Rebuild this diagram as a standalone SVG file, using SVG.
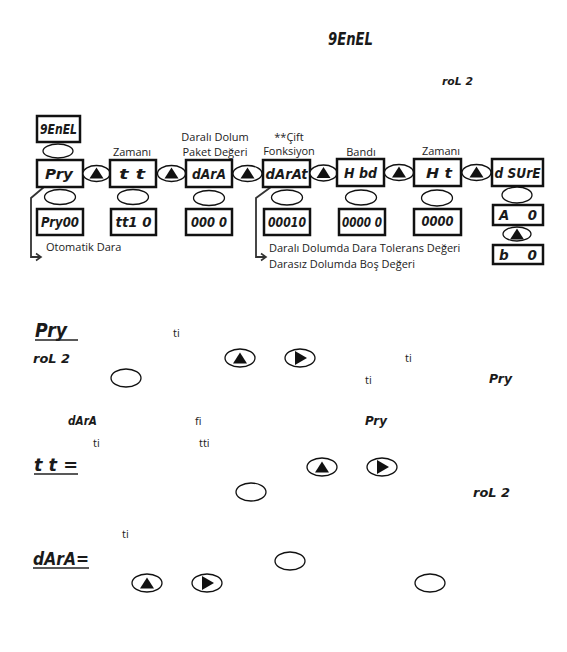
<svg xmlns="http://www.w3.org/2000/svg" width="567" height="652" viewBox="0 0 567 652">
<style>
.box{fill:#fff;stroke:#111;stroke-width:2.5}
.btn{fill:#fff;stroke:#111;stroke-width:1.3}
.tri{fill:#111}
.seg{font-family:"DejaVu Sans",sans-serif;font-style:italic;font-weight:bold;font-size:14px;fill:#1a1a1a;text-anchor:middle}
.segl{font-family:"DejaVu Sans",sans-serif;font-style:italic;font-weight:bold;fill:#1a1a1a}
.lbl{font-family:"Open Sans","Noto Sans",sans-serif;font-size:11px;fill:#222}
.mid{text-anchor:middle}
.con{fill:none;stroke:#333;stroke-width:1.8}
.ul{stroke:#222;stroke-width:1.5}
.pre{white-space:pre}
</style>
<defs>
<marker id="arr" viewBox="0 0 10 10" refX="8" refY="5" markerWidth="10" markerHeight="10" orient="auto" markerUnits="userSpaceOnUse">
<polyline points="3,1.5 8,5 3,8.5" fill="none" stroke="#333" stroke-width="1.6"/>
</marker>
<g id="up"><polygon points="-7,5 7,5 0,-6" class="tri"/></g>
<g id="right"><polygon points="-5,-7 -5,7 7,0" class="tri"/></g>
</defs>
<rect width="567" height="652" fill="#fff"/>

<!-- header -->
<text class="segl" x="328" y="45" font-size="17" textLength="45" lengthAdjust="spacingAndGlyphs">9EnEL</text>
<text class="segl" x="442" y="85" font-size="11" textLength="31" lengthAdjust="spacingAndGlyphs">roL 2</text>

<!-- connectors -->
<g id="connectors">
<path class="con" d="M44,187 L31,198 L31,257 L41,257" marker-end="url(#arr)"/>
<path class="con" d="M271,187 L256,198 L256,257 L266,257" marker-end="url(#arr)"/>
</g>

<!-- nodes -->
<g id="genel"><rect class="box" x="37" y="116" width="43" height="26"/><text class="seg" x="58.5" y="134" font-size="13" textLength="37" lengthAdjust="spacingAndGlyphs">9EnEL</text></g>
<g id="btn-genel"><ellipse class="btn" cx="58" cy="151" rx="15" ry="7"/></g>

<g id="pry"><rect class="box" x="37" y="160" width="46" height="27"/><text class="seg" x="59" y="179" textLength="28" lengthAdjust="spacingAndGlyphs">Pry</text></g>
<g id="btn-up1"><ellipse class="btn" cx="96.5" cy="173.5" rx="13.5" ry="8"/><use href="#up" x="96.5" y="173.5"/></g>
<g id="tt"><rect class="box" x="110" y="160" width="46" height="27"/><text class="seg" x="132" y="179" textLength="26" lengthAdjust="spacingAndGlyphs">t t</text><text class="lbl mid" x="132" y="156">Zamanı</text></g>
<g id="btn-up2"><ellipse class="btn" cx="171.5" cy="173.5" rx="14" ry="8"/><use href="#up" x="171.5" y="173.5"/></g>
<g id="dara"><rect class="box" x="186" y="160" width="46" height="27"/><text class="seg" x="209" y="179" textLength="34" lengthAdjust="spacingAndGlyphs">dArA</text><text class="lbl mid" x="215" y="141">Daralı Dolum</text><text class="lbl mid" x="215" y="156">Paket Değeri</text></g>
<g id="btn-up3"><ellipse class="btn" cx="247.5" cy="173.5" rx="14.5" ry="8"/><use href="#up" x="247.5" y="173.5"/></g>
<g id="darat"><rect class="box" x="263" y="160" width="47" height="27"/><text class="seg" x="286.5" y="179" textLength="42" lengthAdjust="spacingAndGlyphs">dArAt</text><text class="lbl mid" x="289" y="141">**Çift</text><text class="lbl mid" x="289" y="155">Fonksiyon</text></g>
<g id="btn-up4"><ellipse class="btn" cx="323.5" cy="173" rx="13.5" ry="8"/><use href="#up" x="323.5" y="173"/></g>
<g id="hbd"><rect class="box" x="337" y="159" width="47" height="27"/><text class="seg" x="360.5" y="178" textLength="33" lengthAdjust="spacingAndGlyphs">H bd</text><text class="lbl mid" x="361" y="156">Bandı</text></g>
<g id="btn-up5"><ellipse class="btn" cx="399" cy="172.5" rx="14.5" ry="8"/><use href="#up" x="399" y="172.5"/></g>
<g id="ht"><rect class="box" x="414" y="159" width="47" height="27"/><text class="seg" x="439" y="178" textLength="26" lengthAdjust="spacingAndGlyphs">H t</text><text class="lbl mid" x="441" y="155">Zamanı</text></g>
<g id="btn-up6"><ellipse class="btn" cx="476.5" cy="172.5" rx="14.5" ry="8"/><use href="#up" x="476.5" y="172.5"/></g>
<g id="dsure"><rect class="box" x="492" y="159" width="51" height="27"/><text class="seg" x="517.5" y="178" textLength="46" lengthAdjust="spacingAndGlyphs">d SUrE</text></g>

<g id="btn-o1"><ellipse class="btn" cx="60" cy="197" rx="15.5" ry="7.5"/></g>
<g id="btn-o2"><ellipse class="btn" cx="133" cy="197" rx="15.5" ry="7.5"/></g>
<g id="btn-o3"><ellipse class="btn" cx="209" cy="198" rx="15.5" ry="7.5"/></g>
<g id="btn-o4"><ellipse class="btn" cx="287" cy="197.5" rx="15.5" ry="7.5"/></g>
<g id="btn-o5"><ellipse class="btn" cx="361" cy="197.5" rx="15.5" ry="7.5"/></g>
<g id="btn-o6"><ellipse class="btn" cx="437" cy="198" rx="15.5" ry="8"/></g>
<g id="btn-o7"><ellipse class="btn" cx="517" cy="195" rx="15" ry="8"/></g>

<g id="v-pry"><rect class="box" x="37" y="209" width="46" height="26"/><text class="seg" x="60" y="227" textLength="38" lengthAdjust="spacingAndGlyphs">Pry00</text><text class="lbl" x="46" y="251">Otomatik Dara</text></g>
<g id="v-tt"><rect class="box" x="111" y="209" width="45" height="26"/><text class="seg" x="133.5" y="227" textLength="36" lengthAdjust="spacingAndGlyphs">tt1 0</text></g>
<g id="v-dara"><rect class="box" x="186" y="209" width="46" height="26"/><text class="seg" x="209" y="227" textLength="36" lengthAdjust="spacingAndGlyphs">000 0</text></g>
<g id="v-darat"><rect class="box" x="264" y="209" width="46" height="26"/><text class="seg" x="287" y="227" textLength="38" lengthAdjust="spacingAndGlyphs">00010</text><text class="lbl" x="269" y="252">Daralı Dolumda Dara Tolerans Değeri</text><text class="lbl" x="269" y="268">Darasız Dolumda Boş Değeri</text></g>
<g id="v-hbd"><rect class="box" x="339" y="209" width="46" height="26"/><text class="seg" x="362" y="227" textLength="40" lengthAdjust="spacingAndGlyphs">0000 0</text></g>
<g id="v-ht"><rect class="box" x="414" y="209" width="47" height="26"/><text class="seg" x="437.5" y="226" textLength="32" lengthAdjust="spacingAndGlyphs">0000</text></g>
<g id="v-a"><rect class="box" x="493" y="205" width="50" height="20"/><text class="seg pre" x="518" y="220" font-size="12" textLength="38" lengthAdjust="spacingAndGlyphs">A    0</text></g>
<g id="btn-up7"><ellipse class="btn" cx="517" cy="234" rx="14" ry="7"/><use href="#up" x="517" y="234.5"/></g>
<g id="v-b"><rect class="box" x="493" y="245" width="50" height="19"/><text class="seg pre" x="518" y="259.5" font-size="12" textLength="38" lengthAdjust="spacingAndGlyphs">b    0</text></g>

<!-- body text fragments -->
<text class="segl" x="35" y="337" font-size="19" textLength="32" lengthAdjust="spacingAndGlyphs">Pry</text>
<line class="ul" x1="35" y1="340" x2="78" y2="340"/>
<text class="lbl" x="173" y="337">ti</text>
<text class="segl" x="33" y="363" font-size="12" textLength="37" lengthAdjust="spacingAndGlyphs">roL 2</text>
<ellipse class="btn" cx="240" cy="358" rx="15" ry="9"/><use href="#up" x="240" y="358.5"/>
<ellipse class="btn" cx="300" cy="358" rx="15" ry="9"/><use href="#right" x="300" y="358"/>
<text class="lbl" x="405" y="362">ti</text>
<ellipse class="btn" cx="126" cy="378" rx="15" ry="9"/>
<text class="lbl" x="365" y="384">ti</text>
<text class="segl" x="489" y="383" font-size="12" textLength="23" lengthAdjust="spacingAndGlyphs">Pry</text>

<text class="segl" x="68" y="425" font-size="12" textLength="29" lengthAdjust="spacingAndGlyphs">dArA</text>
<text class="lbl" x="195" y="425">fi</text>
<text class="segl" x="365" y="425" font-size="12" textLength="22" lengthAdjust="spacingAndGlyphs">Pry</text>
<text class="lbl" x="93" y="447">ti</text>
<text class="lbl" x="199" y="447">tti</text>

<text class="segl" x="34" y="471" font-size="17" textLength="44" lengthAdjust="spacingAndGlyphs">t t =</text>
<line class="ul" x1="34" y1="474" x2="78" y2="474"/>
<ellipse class="btn" cx="322" cy="467" rx="15" ry="9"/><use href="#up" x="322" y="467.5"/>
<ellipse class="btn" cx="382" cy="467" rx="15" ry="9"/><use href="#right" x="382" y="467"/>
<ellipse class="btn" cx="251" cy="492" rx="15" ry="9"/>
<text class="segl" x="473" y="497" font-size="12" textLength="37" lengthAdjust="spacingAndGlyphs">roL 2</text>
<text class="lbl" x="122" y="538">ti</text>

<text class="segl" x="33" y="565" font-size="17" textLength="56" lengthAdjust="spacingAndGlyphs">dArA=</text>
<line class="ul" x1="33" y1="568" x2="89" y2="568"/>
<ellipse class="btn" cx="290" cy="561" rx="15" ry="9"/>
<ellipse class="btn" cx="147" cy="583" rx="15" ry="9"/><use href="#up" x="147" y="583.5"/>
<ellipse class="btn" cx="207" cy="583" rx="15" ry="9"/><use href="#right" x="207" y="583"/>
<ellipse class="btn" cx="430" cy="583" rx="15" ry="9"/>
</svg>
